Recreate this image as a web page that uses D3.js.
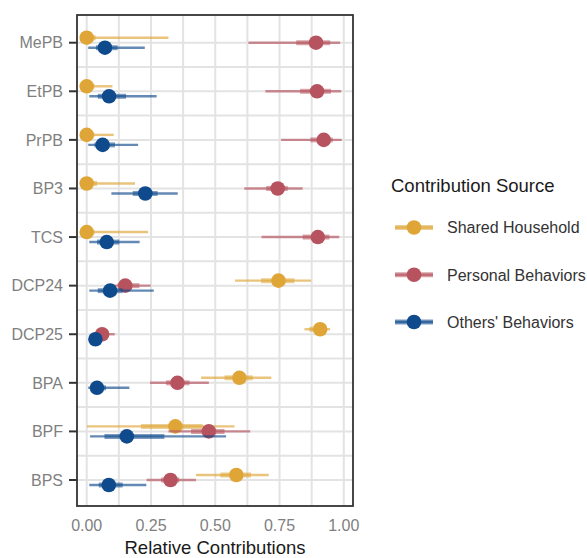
<!DOCTYPE html>
<html>
<head>
<meta charset="utf-8">
<script src="https://cdn.jsdelivr.net/npm/d3@7"></script>
<style>
  body { margin: 0; background: #fff; }
  svg { font-family: "Liberation Sans", Arial, sans-serif; }
</style>
</head>
<body>
<div id="plot"></div>
<script>
// categories (top to bottom) and series
const categories = ["MePB", "EtPB", "PrPB", "BP3", "TCS", "DCP24", "DCP25", "BPA", "BPF", "BPS"];
const sources = ["Shared Household", "Personal Behaviors", "Others' Behaviors"];
const xTicks = [0, 0.25, 0.5, 0.75, 1];

// Shared Household
const sharedEst  = [0.00, 0.00, 0.00, 0.00, 0.00, 0.746, 0.908, 0.594, 0.345, 0.582];
const sharedLo   = [0.00, 0.00, 0.00, 0.00, 0.00, 0.577, 0.847, 0.445, 0.001, 0.425];
const sharedHi   = [0.318, 0.100, 0.105, 0.188, 0.239, 0.873, 0.947, 0.718, 0.575, 0.708];
const sharedLo50 = [0.00, 0.00, 0.00, 0.00, 0.00, 0.678, 0.866, 0.536, 0.211, 0.520];
const sharedHi50 = [0.035, 0.030, 0.030, 0.040, 0.030, 0.808, 0.930, 0.646, 0.451, 0.639];

// Personal Behaviors
const personalEst  = [0.892, 0.896, 0.922, 0.743, 0.899, 0.150, 0.060, 0.353, 0.475, 0.326];
const personalLo   = [0.629, 0.695, 0.756, 0.613, 0.680, 0.100, 0.030, 0.246, 0.318, 0.233];
const personalHi   = [0.986, 0.990, 0.992, 0.840, 0.982, 0.249, 0.109, 0.475, 0.636, 0.425];
const personalLo50 = [0.815, 0.830, 0.870, 0.698, 0.840, 0.120, 0.045, 0.309, 0.406, 0.289];
const personalHi50 = [0.947, 0.950, 0.957, 0.782, 0.944, 0.205, 0.085, 0.400, 0.536, 0.360];

// Others' Behaviors
const othersEst  = [0.071, 0.087, 0.062, 0.228, 0.078, 0.091, 0.034, 0.040, 0.156, 0.086];
const othersLo   = [0.006, 0.010, 0.006, 0.096, 0.010, 0.010, 0.010, 0.006, 0.013, 0.010];
const othersHi   = [0.226, 0.272, 0.200, 0.354, 0.206, 0.261, 0.055, 0.166, 0.542, 0.232];
const othersLo50 = [0.036, 0.043, 0.030, 0.179, 0.040, 0.043, 0.020, 0.017, 0.069, 0.047];
const othersHi50 = [0.120, 0.153, 0.110, 0.276, 0.127, 0.140, 0.045, 0.075, 0.302, 0.140];

const colors = ["#DFA537", "#B6535F", "#0F4A8C"];

const FRAME_WIDTH = 587;
const FRAME_HEIGHT = 558;
const PANEL = { left: 77, right: 353, top: 15, bottom: 506 };

// build rows for drawing
const seriesData = [
  [sharedEst, sharedLo, sharedHi, sharedLo50, sharedHi50],
  [personalEst, personalLo, personalHi, personalLo50, personalHi50],
  [othersEst, othersLo, othersHi, othersLo50, othersHi50]
].map((s, i) => categories.map((c, j) => ({
  cat: c, src: sources[i], color: colors[i],
  est: s[0][j], lo: s[1][j], hi: s[2][j], lo50: s[3][j], hi50: s[4][j]
})));

const svg = d3.select("#plot")
  .append("svg")
    .attr("width", FRAME_WIDTH)
    .attr("height", FRAME_HEIGHT);

// scales
const x = d3.scaleLinear().domain([0, 1]).range([86.7, 343.8]);
const y = d3.scalePoint().domain(categories).range([42.7, 480]);
const dodge = d3.scalePoint().domain(sources).range([-5, 5]);
const step = y.step();

// grid
const grid = svg.append("g");
const minorX = [0.125, 0.375, 0.625, 0.875];
grid.selectAll(".gx").data(xTicks.concat(minorX)).join("line")
  .attr("x1", d => x(d)).attr("x2", d => x(d))
  .attr("y1", PANEL.top).attr("y2", PANEL.bottom)
  .attr("stroke", "#e3e3e3").attr("stroke-width", 2);
const minorY = categories.slice(1).map(c => y(c) - step / 2);
grid.selectAll(".gy").data(categories.map(c => y(c)).concat(minorY)).join("line")
  .attr("x1", PANEL.left).attr("x2", PANEL.right)
  .attr("y1", d => d).attr("y2", d => d)
  .attr("stroke", "#e3e3e3").attr("stroke-width", 2);

// intervals and points
seriesData.forEach(rows => {
  const g = svg.append("g");
  g.selectAll(".thin").data(rows).join("line")
    .attr("x1", d => x(d.lo)).attr("x2", d => x(d.hi))
    .attr("y1", d => y(d.cat) + dodge(d.src)).attr("y2", d => y(d.cat) + dodge(d.src))
    .attr("stroke", d => d.color).attr("stroke-opacity", 0.65).attr("stroke-width", 2.4);
  g.selectAll(".thick").data(rows).join("line")
    .attr("x1", d => x(d.lo50)).attr("x2", d => x(d.hi50))
    .attr("y1", d => y(d.cat) + dodge(d.src)).attr("y2", d => y(d.cat) + dodge(d.src))
    .attr("stroke", d => d.color).attr("stroke-opacity", 0.55).attr("stroke-width", 5);
  g.selectAll("circle").data(rows).join("circle")
    .attr("cx", d => x(d.est))
    .attr("cy", d => y(d.cat) + dodge(d.src))
    .attr("r", 7.3)
    .attr("fill", d => d.color);
});

// panel border
svg.append("rect")
  .attr("x", PANEL.left).attr("y", PANEL.top)
  .attr("width", PANEL.right - PANEL.left).attr("height", PANEL.bottom - PANEL.top)
  .attr("fill", "none").attr("stroke", "#333").attr("stroke-width", 1.8);

// y axis ticks + labels
const yAxis = svg.append("g");
yAxis.selectAll("line").data(categories).join("line")
  .attr("x1", PANEL.left - 8).attr("x2", PANEL.left)
  .attr("y1", d => y(d)).attr("y2", d => y(d))
  .attr("stroke", "#333").attr("stroke-width", 2);
yAxis.selectAll("text").data(categories).join("text")
  .attr("x", PANEL.left - 14).attr("y", d => y(d))
  .attr("dy", "0.36em").attr("text-anchor", "end")
  .attr("font-size", 16).attr("fill", "#7f7f7f")
  .text(d => d);

// x axis labels
svg.append("g").selectAll("text").data(xTicks).join("text")
  .attr("x", d => x(d)).attr("y", 531)
  .attr("text-anchor", "middle").attr("font-size", 16).attr("fill", "#7f7f7f")
  .text(d => d3.format(".2f")(d));

svg.append("text")
  .attr("x", (PANEL.left + PANEL.right) / 2).attr("y", 554)
  .attr("text-anchor", "middle").attr("font-size", 18.5).attr("fill", "#1a1a1a")
  .text("Relative Contributions");

// legend
const legend = svg.append("g");
legend.append("text")
  .attr("x", 391).attr("y", 192)
  .attr("font-size", 18.5).attr("fill", "#1a1a1a")
  .text("Contribution Source");
const ly = d3.scalePoint().domain(sources).range([227.5, 322]);
const items = legend.selectAll(".item").data(sources).join("g")
  .attr("transform", d => `translate(0,${ly(d)})`);
items.append("line")
  .attr("x1", 395).attr("x2", 433).attr("y1", 0).attr("y2", 0)
  .attr("stroke", (d, i) => colors[i]).attr("stroke-opacity", 0.65).attr("stroke-width", 2.4);
items.append("line")
  .attr("x1", 395).attr("x2", 433).attr("y1", 0).attr("y2", 0)
  .attr("stroke", (d, i) => colors[i]).attr("stroke-opacity", 0.55).attr("stroke-width", 5);
items.append("circle")
  .attr("cx", 414).attr("cy", 0).attr("r", 7.3)
  .attr("fill", (d, i) => colors[i]);
items.append("text")
  .attr("x", 447).attr("y", 0).attr("dy", "0.36em")
  .attr("font-size", 16).attr("fill", "#333")
  .text(d => d);
</script>
</body>
</html>
